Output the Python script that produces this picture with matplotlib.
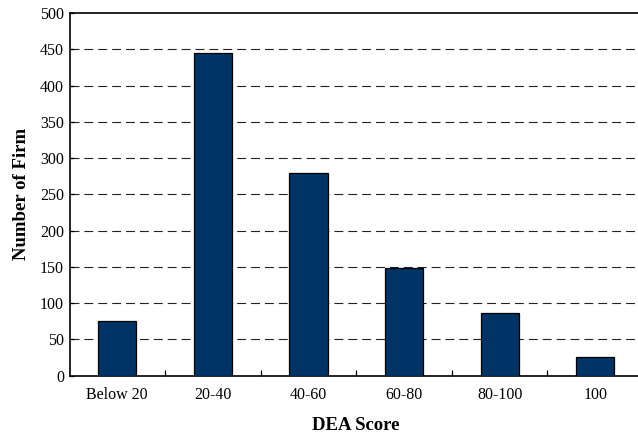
import matplotlib
matplotlib.use("Agg")
import matplotlib.pyplot as plt
import numpy as np

categories = ["Below 20", "20-40", "40-60", "60-80", "80-100", "100"]
firms = [76, 445, 280, 149, 87, 26]
yticks = [0, 50, 100, 150, 200, 250, 300, 350, 400, 450, 500]

plt.rcParams['font.family'] = ['Liberation Serif', 'DejaVu Serif']

fig = plt.figure(figsize=(6.38, 4.33), dpi=100)
W, H = 638, 433
left, right, top, bottom = 69.5, 643, 13, 375.7
ax = fig.add_axes([left / W, (H - bottom) / H, (right - left) / W, (bottom - top) / H])

x = np.arange(len(categories))
ax.bar(x, firms, width=0.4, color="#003366", edgecolor="black", linewidth=0.9, zorder=3)

ax.set_xlim(-0.5, len(categories) - 0.5)
ax.set_ylim(0, 500)
ax.set_yticks(yticks)
ax.set_xticks(x)
ax.set_xticklabels(categories, fontsize=11.5)
ax.set_xticks(np.arange(len(categories) - 1) + 0.5, minor=True)
ax.tick_params(axis='x', which='major', length=0, pad=8)
ax.tick_params(axis='x', which='minor', direction='in', length=4, width=0.9)
ax.tick_params(axis='y', direction='in', length=3, width=0.9, labelsize=11.5, pad=4)

for v in yticks[1:-1]:
    ax.axhline(v, color="#222222", linestyle=(0, (8, 4.5)), linewidth=0.8, zorder=1)

for s in ax.spines.values():
    s.set_linewidth(1.2)
ax.spines['right'].set_visible(False)

ax.set_ylabel("Number of Firm", fontsize=13.5, fontweight='bold', labelpad=7)
ax.set_xlabel("DEA Score", fontsize=13.5, fontweight='bold', labelpad=10)

fig.savefig("out.png", dpi=100)
